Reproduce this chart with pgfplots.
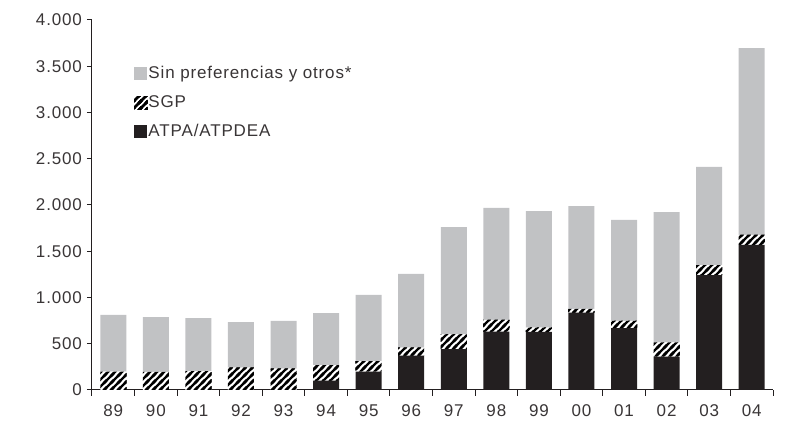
\documentclass[border=0pt]{standalone}
\usepackage{fontspec}
\setmainfont{Liberation Sans}[LetterSpace=5]
\usepackage{pgfplots}
\pgfplotsset{compat=1.18}
\usetikzlibrary{patterns}
\definecolor{bargray}{HTML}{C1C2C4}
\definecolor{barblack}{HTML}{231F20}
\pgfdeclarepatternformonly{thickstripes}{\pgfqpoint{-1pt}{-1pt}}{\pgfqpoint{4.5pt}{4.5pt}}{\pgfqpoint{3.5pt}{3.5pt}}{%
  \pgfsetlinewidth{1.2pt}%
  \pgfpathmoveto{\pgfqpoint{-1pt}{-1pt}}\pgfpathlineto{\pgfqpoint{4.5pt}{4.5pt}}%
  \pgfpathmoveto{\pgfqpoint{-1pt}{2.5pt}}\pgfpathlineto{\pgfqpoint{1pt}{4.5pt}}%
  \pgfpathmoveto{\pgfqpoint{2.5pt}{-1pt}}\pgfpathlineto{\pgfqpoint{4.5pt}{1pt}}%
  \pgfusepath{stroke}}
\begin{document}
\begin{tikzpicture}
\useasboundingbox (-46pt,-20.5pt) rectangle (347pt,195pt);
\begin{axis}[
  at={(0,0)}, anchor=south west,
  scale only axis, width=340.5pt, height=185pt,
  font=\fontsize{8.5}{10}\selectfont,
  ybar stacked, bar width=0.61,
  xmin=-0.5, xmax=15.5, ymin=0, ymax=4000,
  ytick={0,500,...,4000},
  xtick={0,...,15},
  xticklabels={89,90,91,92,93,94,95,96,97,98,99,00,01,02,03,04},
  axis x line*=bottom, axis y line*=left,
  axis line style={-, draw=barblack, line width=0.5pt},
  tick align=outside,
  major tick length=2.5pt,
  tick style={draw=barblack, line width=0.5pt},
  major x tick style={draw=none},
  extra x ticks={-0.5,0.5,...,15.5},
  extra x tick labels={},
  extra x tick style={major x tick style={draw=barblack, line width=0.5pt}, major tick length=3pt},
  scaled y ticks=false,
  ticklabel style={text=barblack!90},
  xticklabel style={yshift=-1.5pt},
  yticklabel style={xshift=1pt, /pgf/number format/.cd, 1000 sep={.}, assume math mode=true},
  legend style={at={(0.053,0.89)}, anchor=north west, draw=none, fill=none,
    row sep=6pt, nodes={inner xsep=0.5pt, inner ysep=0.5pt, text=barblack!90}},
  legend cell align=left,
  reverse legend,
]
\addplot[fill=barblack, draw=none,
  legend image code/.code={\fill[barblack] (0pt,-3.2pt) rectangle (6.5pt,3.3pt);}]
  coordinates {(0,0) (1,0) (2,0) (3,0) (4,0) (5,101) (6,198) (7,371) (8,443) (9,631) (10,627) (11,836) (12,670) (13,360) (14,1243) (15,1568)};
\addplot[fill=white, draw=none, postaction={pattern=thickstripes, pattern color=black},
  legend image code/.code={\fill[white] (0pt,-3.2pt) rectangle (6.5pt,3.3pt); \fill[pattern=thickstripes, pattern color=black] (0pt,-3.2pt) rectangle (6.5pt,3.3pt);}]
  coordinates {(0,198) (1,195) (2,205) (3,241) (4,231) (5,169) (6,115) (7,87) (8,159) (9,126) (10,47) (11,40) (12,76) (13,155) (14,108) (15,108)};
\addplot[fill=bargray, draw=none,
  legend image code/.code={\fill[bargray] (0pt,-3.2pt) rectangle (6.5pt,3.3pt);}]
  coordinates {(0,613) (1,594) (2,573) (3,494) (4,515) (5,562) (6,714) (7,796) (8,1160) (9,1211) (10,1261) (11,1113) (12,1092) (13,1409) (14,1060) (15,2021)};
\legend{ATPA/ATPDEA, SGP, Sin preferencias y otros*}
\end{axis}
\end{tikzpicture}
\end{document}
